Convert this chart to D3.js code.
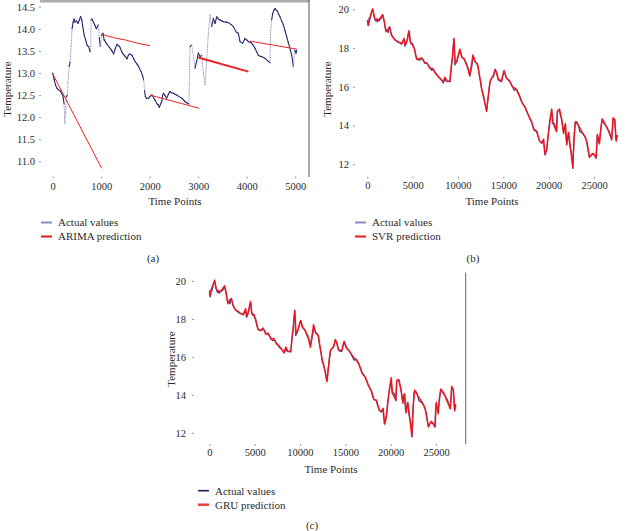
<!DOCTYPE html>
<html><head><meta charset="utf-8">
<script src="https://cdn.jsdelivr.net/npm/d3@7"></script>
<style>
html,body{margin:0;padding:0;background:#fff;}
svg{display:block;font-family:"Liberation Serif","Times New Roman",serif;}
svg text{font-family:"Liberation Serif","Times New Roman",serif;}
</style></head>
<body>
<svg id="c" width="630" height="531"></svg>
<script>
// ---------- DATA ----------
const xTicksA = [0,1000,2000,3000,4000,5000];
const yTicksA = [11.0,11.5,12.0,12.5,13.0,13.5,14.0,14.5];
const xTicksBC = [0,5000,10000,15000,20000,25000];
const yTicksBC = [12,14,16,18,20];

// (a) actual test values [time point, temperature]
const arimaActual = [[0,13.0],[30,12.85],[60,12.72],[90,12.65],[120,12.62],[150,12.6],[180,12.55],[210,12.48],[235,12.3],[250,11.85],[265,12.1],[280,12.45],[300,12.5],[320,12.9],[340,13.15],[360,13.25],[380,13.6],[400,14.0],[420,14.15],[440,14.22],[460,14.15],[490,14.18],[520,14.12],[550,14.2],[575,14.28],[600,14.2],[620,14.05],[650,13.85],[680,13.75],[710,13.62],[740,13.6],[765,13.5],[783,13.48],[790,14.2],[810,14.22],[840,14.15],[870,14.08],[900,14.0],[941,14.09],[960,13.8],[982,13.6],[1010,13.85],[1036,13.9],[1060,13.75],[1085,13.71],[1120,13.65],[1153,13.6],[1190,13.55],[1222,13.5],[1257,13.43],[1290,13.55],[1326,13.65],[1350,13.62],[1381,13.6],[1415,13.5],[1450,13.43],[1490,13.38],[1532,13.32],[1560,13.4],[1587,13.43],[1635,13.4],[1670,13.32],[1704,13.25],[1740,13.2],[1773,13.14],[1821,13.03],[1850,12.95],[1876,12.84],[1895,12.6],[1910,12.47],[1940,12.42],[1979,12.43],[2010,12.47],[2048,12.5],[2080,12.44],[2109,12.39],[2150,12.3],[2175,12.28],[2200,12.22],[2225,12.3],[2248,12.35],[2265,12.48],[2282,12.54],[2310,12.5],[2350,12.43],[2385,12.52],[2419,12.58],[2455,12.55],[2487,12.54],[2520,12.52],[2556,12.5],[2600,12.47],[2659,12.43],[2690,12.4],[2727,12.35],[2770,12.32],[2810,12.3],[2817,12.73],[2831,13.6],[2865,13.63],[2900,13.41],[2934,13.11],[2968,13.26],[3003,13.45],[3037,13.37],[3072,13.4],[3106,12.99],[3140,12.73],[3175,13.29],[3209,13.9],[3244,14.31],[3278,14.05],[3313,14.23],[3347,14.12],[3381,14.27],[3420,14.22],[3450,14.2],[3485,14.18],[3519,14.16],[3570,14.15],[3622,14.14],[3675,14.1],[3725,14.05],[3780,13.93],[3828,13.9],[3862,13.71],[3917,13.67],[3965,13.78],[4000,13.75],[4034,13.71],[4070,13.7],[4103,13.67],[4140,13.62],[4171,13.56],[4205,13.48],[4240,13.4],[4275,13.38],[4309,13.37],[4345,13.35],[4378,13.33],[4430,13.28],[4481,13.23],[4495,13.97],[4515,14.2],[4536,14.35],[4560,14.42],[4584,14.46],[4610,14.42],[4632,14.4],[4660,14.33],[4687,14.27],[4720,14.18],[4756,14.09],[4790,13.96],[4825,13.82],[4855,13.7],[4880,13.6],[4905,13.5],[4928,13.4],[4945,13.28],[4962,13.14],[4990,13.52],[5017,13.45],[5030,13.52]];

// (a) ARIMA forecast segments
const arimaPred = [
  [[0,12.98],[1010,10.84]],
  [[1000,13.88],[1250,13.8],[1525,13.74],[1760,13.67],[2006,13.62]],
  [[2006,12.5],[3023,12.2]],
  [[3003,13.35],[4034,13.03]],
  [[4068,13.72],[5030,13.54]]
];
const arimaWidths = [1,1,1,2,1];

// (b)/(c) actual test values [time point, temperature]
const actualValues = [[0,19.35],[100,19.15],[200,19.55],[300,19.5],[400,19.7],[480,19.88],[590,20.0],[700,19.75],[800,19.55],[900,19.4],[1000,19.5],[1100,19.35],[1200,19.48],[1300,19.42],[1400,19.55],[1500,19.5],[1600,19.62],[1700,19.7],[1800,19.5],[1850,19.45],[1950,19.1],[2060,18.9],[2150,18.95],[2300,18.8],[2400,19.0],[2500,19.05],[2600,18.8],[2700,18.65],[2850,18.55],[3050,18.42],[3250,18.35],[3420,18.28],[3600,18.3],[3790,18.22],[3900,18.35],[4050,18.45],[4150,18.1],[4270,18.2],[4400,18.4],[4520,18.76],[4630,18.85],[4720,18.4],[4820,18.2],[4950,18.25],[5070,18.05],[5180,18.0],[5260,17.8],[5350,17.6],[5440,17.45],[5600,17.4],[5800,17.38],[6000,17.45],[6180,17.4],[6360,17.2],[6550,17.25],[6730,17.1],[6900,17.0],[7100,16.85],[7300,16.9],[7460,16.75],[7650,16.65],[7830,16.5],[8000,16.45],[8200,16.35],[8380,16.2],[8560,16.42],[8700,16.3],[8820,16.27],[9000,16.3],[9120,16.25],[9230,16.85],[9370,17.4],[9450,17.9],[9560,18.45],[9620,17.6],[9670,17.13],[9850,17.3],[10040,17.64],[10220,17.9],[10400,17.56],[10590,17.47],[10700,17.4],[10880,17.2],[11000,17.05],[11140,16.95],[11320,16.6],[11500,17.0],[11600,17.3],[11690,17.6],[11800,17.4],[11870,17.3],[12000,17.25],[12130,17.2],[12250,16.9],[12350,16.6],[12480,16.3],[12610,15.85],[12790,15.6],[12980,15.15],[13100,14.85],[13160,14.72],[13250,15.1],[13340,15.5],[13450,16.0],[13530,16.27],[13710,16.44],[13900,16.52],[14000,16.7],[14080,16.87],[14260,16.78],[14450,16.35],[14600,16.3],[14810,16.27],[14950,16.6],[15070,16.8],[15290,16.5],[15550,16.35],[15750,16.25],[15920,16.09],[16180,15.83],[16470,15.87],[16760,15.58],[17020,15.23],[17200,15.1],[17390,14.97],[17560,14.75],[17760,14.54],[17950,14.35],[18120,14.2],[18250,13.95],[18380,13.77],[18670,13.68],[18850,13.4],[18970,13.25],[19100,13.15],[19230,13.08],[19410,13.25],[19520,12.8],[19590,12.48],[19780,12.74],[19960,13.6],[20140,14.29],[20330,14.8],[20440,14.11],[20600,14.1],[20700,14.03],[20880,13.68],[20950,14.72],[21170,14.8],[21300,14.55],[21430,14.29],[21620,13.68],[21800,14.03],[21980,13.08],[22170,13.6],[22350,12.91],[22530,12.56],[22600,12.3],[22680,11.79],[22780,13.2],[22900,14.11],[23090,14.2],[23270,14.03],[23450,13.68],[23750,13.6],[24000,13.42],[24190,13.17],[24350,12.7],[24480,12.39],[24740,12.48],[24920,12.56],[25100,12.45],[25220,12.31],[25360,13.51],[25480,13.3],[25590,13.08],[25730,13.77],[25880,14.29],[26100,14.11],[26390,13.94],[26690,13.68],[26950,13.25],[27130,14.37],[27280,14.29],[27420,13.25],[27570,13.51]];

// (b) SVR prediction
const svrPred = [[0,19.45],[150,19.2],[300,19.6],[500,19.9],[600,20.02],[750,19.65],[900,19.45],[1100,19.5],[1300,19.4],[1500,19.6],[1700,19.72],[1900,19.3],[2050,18.85],[2250,18.95],[2450,19.1],[2650,18.7],[2900,18.5],[3200,18.38],[3500,18.3],[3800,18.2],[4050,18.5],[4200,18.15],[4450,18.5],[4600,18.9],[4750,18.3],[5000,18.2],[5200,17.95],[5450,17.42],[5750,17.45],[6000,17.5],[6300,17.25],[6600,17.2],[6900,16.95],[7200,16.95],[7500,16.7],[7800,16.55],[8100,16.4],[8350,16.25],[8550,16.5],[8800,16.3],[9100,16.28],[9250,17.0],[9400,17.6],[9550,18.5],[9700,17.2],[9900,17.35],[10200,17.95],[10450,17.5],[10700,17.45],[11000,17.1],[11300,16.55],[11650,17.65],[11900,17.3],[12200,17.1],[12400,16.5],[12650,15.8],[12950,15.2],[13150,14.75],[13350,15.55],[13550,16.3],[13900,16.6],[14100,16.9],[14450,16.4],[14800,16.3],[15080,16.85],[15350,16.45],[15700,16.3],[16000,16.0],[16400,15.9],[16750,15.55],[17100,15.15],[17450,14.9],[17800,14.5],[18150,14.15],[18400,13.8],[18700,13.7],[19000,13.2],[19250,13.1],[19450,13.3],[19600,12.5],[19800,12.8],[20000,13.7],[20330,14.85],[20500,14.1],[20850,13.7],[20980,14.75],[21200,14.85],[21450,14.3],[21650,13.6],[21850,14.1],[22000,13.0],[22200,13.65],[22400,12.85],[22650,11.85],[22800,13.3],[22950,14.2],[23300,14.0],[23700,13.65],[24050,13.4],[24250,13.1],[24500,12.35],[24800,12.55],[25000,12.5],[25250,12.35],[25380,13.55],[25600,13.05],[25750,13.8],[25900,14.35],[26200,14.1],[26600,13.7],[26950,13.3],[27100,14.4],[27300,14.3],[27450,13.2],[27570,13.5]];

// (c) GRU prediction
const gruPred = [[0,19.5],[120,19.25],[280,19.65],[480,19.85],[600,20.05],[760,19.6],[920,19.5],[1120,19.45],[1320,19.45],[1520,19.62],[1720,19.75],[1900,19.35],[2070,18.8],[2260,19.0],[2460,19.08],[2660,18.72],[2920,18.48],[3220,18.4],[3520,18.28],[3820,18.22],[4060,18.55],[4220,18.12],[4460,18.55],[4610,18.92],[4760,18.28],[5010,18.22],[5210,17.9],[5460,17.45],[5760,17.4],[6010,17.52],[6310,17.2],[6610,17.22],[6910,16.92],[7210,16.98],[7510,16.68],[7810,16.58],[8110,16.38],[8360,16.22],[8560,16.52],[8810,16.28],[9110,16.3],[9260,17.05],[9410,17.65],[9560,18.45],[9710,17.25],[9910,17.4],[10210,17.92],[10460,17.55],[10710,17.4],[11010,17.12],[11310,16.5],[11660,17.7],[11910,17.25],[12210,17.12],[12410,16.45],[12660,15.75],[12960,15.25],[13160,14.7],[13360,15.6],[13560,16.35],[13910,16.55],[14110,16.92],[14460,16.38],[14810,16.32],[15090,16.82],[15360,16.48],[15710,16.28],[16010,16.05],[16410,15.85],[16760,15.6],[17110,15.12],[17460,14.92],[17810,14.48],[18160,14.18],[18410,13.75],[18710,13.72],[19010,13.18],[19260,13.12],[19460,13.28],[19610,12.45],[19810,12.85],[20010,13.75],[20340,14.9],[20510,14.05],[20860,13.72],[20990,14.78],[21210,14.8],[21460,14.25],[21660,13.55],[21860,14.05],[22010,13.05],[22210,13.6],[22410,12.8],[22660,11.8],[22810,13.35],[22960,14.25],[23310,13.95],[23710,13.68],[24060,13.38],[24260,13.05],[24510,12.3],[24810,12.6],[25010,12.48],[25260,12.3],[25390,13.6],[25610,13.0],[25760,13.85],[25910,14.3],[26210,14.12],[26610,13.65],[26960,13.28],[27110,14.45],[27310,14.25],[27460,13.15],[27570,13.45]];
// the GRU test window is slightly shorter than the SVR one
const svrSpan = 27570, gruSpan = 27180;

// ---------- DRAW ----------
const svg = d3.select("#c");
const txt = "#2b2b2b";
const tickCol = "#9a9a9a";
const FONT = "'Liberation Serif', 'Times New Roman', serif";

function axes(g, x, y, xTicks, yTicks, fmtY, yAxisX, xAxisY, yPad, xPad){
  const ya = g.append("g").attr("transform",`translate(${yAxisX},0)`)
    .call(d3.axisLeft(y).tickValues(yTicks).tickFormat(fmtY).tickSize(2).tickPadding(yPad));
  const xa = g.append("g").attr("transform",`translate(0,${xAxisY})`)
    .call(d3.axisBottom(x).tickValues(xTicks).tickFormat(d3.format("d")).tickSize(2).tickPadding(xPad));
  [ya,xa].forEach(a=>{
    a.attr("font-family",FONT).attr("font-size",10.5);
    a.select(".domain").remove();
    a.selectAll(".tick line").attr("stroke",tickCol);
    a.selectAll(".tick text").attr("fill",txt);
  });
}
function label(g, x, y, s, opts={}){
  const t = g.append("text").attr("x",x).attr("y",y).text(s).attr("fill",txt)
    .attr("font-family",FONT).attr("font-size",opts.size||11).attr("text-anchor",opts.anchor||"middle");
  if(opts.rot) t.attr("transform",`rotate(-90,${x},${y})`);
  return t;
}
function legend(g, x, y, items){
  items.forEach((it,i)=>{
    const yy = y + i*14;
    g.append("line").attr("x1",x).attr("x2",x+11).attr("y1",yy).attr("y2",yy)
      .attr("stroke",it.color).attr("stroke-width",it.w||2);
    label(g, x+17, yy+3.8, it.label, {anchor:"start"});
  });
}

// ---- Panel (a)
{
  const g = svg.append("g");
  const x = d3.scaleLinear().domain([0,5000]).range([52.7,295.2]);
  const y = d3.scaleLinear().domain([11,14.5]).range([161.3,6.7]);
  g.append("rect").attr("x",40).attr("y",0).attr("width",269.5).attr("height",2.5).attr("fill","#adadad");
  g.append("line").attr("x1",309).attr("x2",309).attr("y1",0).attr("y2",177).attr("stroke","#555").attr("stroke-width",1);
  axes(g, x, y, xTicksA, yTicksA, d3.format(".1f"), 41, 176.5, 4, 4.5);
  const pairs = d3.pairs(arimaActual);
  g.selectAll("line.seg").data(pairs).join("line").attr("class","seg")
    .attr("x1",d=>x(d[0][0])).attr("y1",d=>y(d[0][1]))
    .attr("x2",d=>x(d[1][0])).attr("y2",d=>y(d[1][1]))
    .attr("stroke-linecap","round")
    .each(function(d){
      const steep = Math.abs(y(d[1][1])-y(d[0][1])) > 9;
      d3.select(this).attr("stroke", steep ? "#8e8ebd" : "#27276b")
        .attr("stroke-width", steep ? 0.8 : 1.1)
        .attr("stroke-dasharray", steep ? "1,1.5" : null);
    });
  const curve = d3.line().x(d=>x(d[0])).y(d=>y(d[1])).curve(d3.curveMonotoneX);
  arimaPred.forEach((seg,i)=>{
    g.append("path").datum(seg).attr("d",curve).attr("fill","none")
      .attr("stroke","#ee2222").attr("stroke-width",arimaWidths[i]);
  });
  label(g, 175, 205, "Time Points");
  label(g, 11, 89, "Temperature", {rot:true});
  legend(g, 41, 222.5, [{label:"Actual values",color:"#8a8ac0"},{label:"ARIMA prediction",color:"#e31b1b"}]);
  label(g, 153, 262, "(a)");
}

function seriesPanel(g, x, y, pred, k){
  const line = d3.line().x(d=>x(d[0]*k)).y(d=>y(d[1]));
  g.append("path").datum(actualValues).attr("d",line).attr("fill","none")
    .attr("stroke","#2e2e80").attr("stroke-width",1.2).attr("stroke-linejoin","round");
  g.append("path").datum(pred).attr("d",line).attr("fill","none")
    .attr("stroke","#ff7a7f").attr("stroke-width",2.4).attr("stroke-opacity",0.3).attr("stroke-linejoin","round");
  g.append("path").datum(pred).attr("d",line).attr("fill","none")
    .attr("stroke","#f0121a").attr("stroke-width",1.2).attr("stroke-linejoin","round");
}

// ---- Panel (b)
{
  const g = svg.append("g");
  const x = d3.scaleLinear().domain([0,25000]).range([367.3,594]);
  const y = d3.scaleLinear().domain([12,20]).range([164.3,9.3]);
  axes(g, x, y, xTicksBC, yTicksBC, d3.format("d"), 355, 176.7, 4, 3.3);
  seriesPanel(g, x, y, svrPred, 1);
  label(g, 492, 205, "Time Points");
  label(g, 331, 89, "Temperature", {rot:true});
  legend(g, 355, 222.5, [{label:"Actual values",color:"#8a8ac0"},{label:"SVR prediction",color:"#e31b1b"}]);
  label(g, 473, 262, "(b)");
}

// ---- Panel (c)
{
  const g = svg.append("g");
  const x = d3.scaleLinear().domain([0,25000]).range([209.3,436]);
  const y = d3.scaleLinear().domain([12,20]).range([432.7,281]);
  g.append("line").attr("x1",465.7).attr("x2",465.7).attr("y1",272.5).attr("y2",444).attr("stroke","#666").attr("stroke-width",1);
  axes(g, x, y, xTicksBC, yTicksBC, d3.format("d"), 194, 444, 6, 3);
  seriesPanel(g, x, y, gruPred, gruSpan/svrSpan);
  label(g, 331, 473, "Time Points");
  label(g, 175, 359, "Temperature", {rot:true});
  legend(g, 198, 490.7, [{label:"Actual values",color:"#1e1e5c",w:1.6},{label:"GRU prediction",color:"#ea4040",w:2.5}]);
  label(g, 312, 529, "(c)");
}
</script>
</body></html>
